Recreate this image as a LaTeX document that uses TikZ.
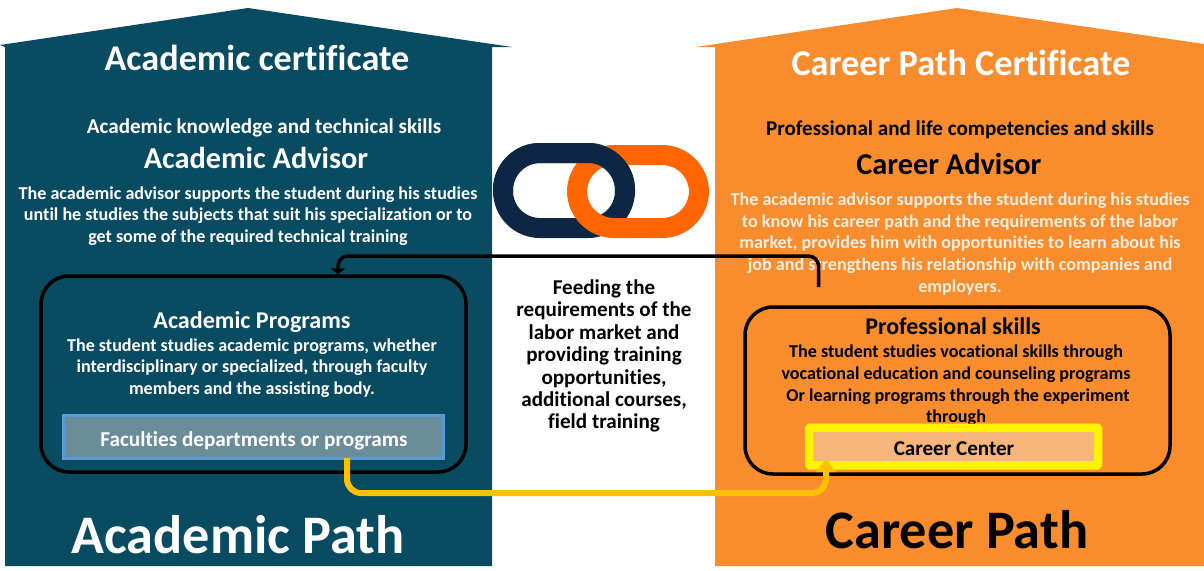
\documentclass[tikz,border=0pt]{standalone}
\usepackage{fontspec}
\setmainfont[Ligatures=NoCommon]{Carlito}
\usepackage{tikz}
\usetikzlibrary{arrows.meta,positioning}

\definecolor{AcadBlue}{HTML}{094B60}
\definecolor{CareerOrange}{HTML}{F98D2D}
\definecolor{LinkNavy}{HTML}{0D2644}
\definecolor{LinkOrange}{HTML}{FF6600}
\definecolor{FacFill}{HTML}{6B8D9A}
\definecolor{FacEdge}{HTML}{5B9BD5}
\definecolor{CenterFill}{HTML}{F5B57B}
\definecolor{ArrowGold}{HTML}{FFC000}

\begin{document}
\begin{tikzpicture}[x=1pt,y=-1pt]
			\tikzstyle{Line}	= [align=center, inner sep=0pt, font=\bfseries]
			\tikzstyle{WhiteText}	= [Line, text=white]
			\tikzstyle{PaleText}	= [Line, text=white!85!CareerOrange]
			\tikzstyle{BlackText}	= [Line, text=black]
			\tikzstyle{Box}		= [draw=black, line width=3.5pt, rounded corners=28pt]
			\tikzstyle{Link}	= [line width=20pt, rounded corners=37pt]

			\useasboundingbox (0,0) rectangle (1204,570);

			% the two houses
			\fill [AcadBlue] (0,45) -- (248,8) -- (512,47) -- (492,47) -- (492,566) -- (5,566) -- (5,47) -- cycle;
			\fill [CareerOrange] (696,47) -- (957,8) -- (1204,44) -- (1204,566) -- (715,566) -- (715,47) -- cycle;

			% the chain
			\draw [Link, LinkNavy] (503,153) rectangle (625,228);
			\draw [Link, LinkOrange] (577,155) rectangle (699,228);
			\begin{scope}
				\clip (480,130) rectangle (640,192);
				\draw [Link, LinkNavy] (503,153) rectangle (625,228);
			\end{scope}

			% left side
			\node (acadTitle) at (257,58) [WhiteText, font=\bfseries\fontsize{36.2}{40}\selectfont] {Academic certificate};
			\node (acadSkills) at (264,128) [WhiteText, font=\bfseries\fontsize{21.1}{24}\selectfont] {Academic knowledge and technical skills};
			\node (acadAdvisor) at (256,158) [WhiteText, font=\bfseries\fontsize{30.3}{32}\selectfont] {Academic Advisor};
			\node (acadText) at (248,216) [WhiteText, font=\bfseries\fontsize{18.1}{21.7}\selectfont] {The academic advisor supports the student during his studies\\until he studies the subjects that suit his specialization or to\\get some of the required technical training};
			\node (acadBox) at (253.5,374) [Box, minimum width=425pt, minimum height=196pt] {};
			\node (acadProg) at (252,322) [WhiteText, font=\bfseries\fontsize{24.1}{27}\selectfont] {Academic Programs};
			\node (acadProgText) at (252,368) [WhiteText, font=\bfseries\fontsize{18.1}{21.7}\selectfont] {The student studies academic programs, whether\\interdisciplinary or specialized, through faculty\\members and the assisting body.};
			\node (faculties) at (253.7,436.7) [draw=FacEdge, fill=FacFill, line width=3pt, minimum width=380pt, minimum height=43pt, inner sep=0pt] {};
			\node (facultiesText) at (254,440.5) [WhiteText, font=\bfseries\fontsize{21.2}{24}\selectfont] {Faculties departments or programs};
			\node (acadPath) at (238,535) [WhiteText, font=\bfseries\fontsize{54.3}{60}\selectfont] {Academic Path};

			% middle
			\node (feeding) at (604,356) [BlackText, font=\bfseries\fontsize{21.1}{22.4}\selectfont] {Feeding the\\requirements of the\\labor market and\\providing training\\opportunities,\\additional courses,\\field training};

			% right side
			\node (careerTitle) at (961,63) [WhiteText, font=\bfseries\fontsize{36.3}{40}\selectfont] {Career Path Certificate};
			\node (careerSkills) at (960,130) [BlackText, font=\bfseries\fontsize{21.1}{24}\selectfont] {Professional and life competencies and skills};
			\node (careerAdvisor) at (949,164) [BlackText, font=\bfseries\fontsize{30.3}{32}\selectfont] {Career Advisor};
			\node (careerText) at (960,244) [PaleText, font=\bfseries\fontsize{18.1}{21.7}\selectfont] {The academic advisor supports the student during his studies\\to know his career path and the requirements of the labor\\market, provides him with opportunities to learn about his\\job and strengthens his relationship with companies and\\employers.};
			\node (careerBox) at (957.5,390.5) [Box, minimum width=425pt, minimum height=167pt] {};
			\node (careerSkill) at (953,326) [BlackText, font=\bfseries\fontsize{24}{27}\selectfont] {Professional skills};
			\node (careerSkillText) at (956,385.5) [BlackText, font=\bfseries\fontsize{18.1}{21.7}\selectfont] {The student studies vocational skills through\\vocational education and counseling programs\\\ Or learning programs through the experiment\\through};
			\node (center) at (953.5,446.5) [draw=yellow, fill=CenterFill, line width=8.5pt, rounded corners=1pt, minimum width=289pt, minimum height=37.5pt, inner sep=0pt] {};
			\node (centerText) at (954,449) [BlackText, font=\bfseries\fontsize{21.1}{24}\selectfont] {Career Center};
			\node (careerPath) at (957,530) [BlackText, font=\bfseries\fontsize{54.3}{60}\selectfont] {Career Path};

			% connectors
			\coordinate (backStart) at (818.5,287);
			\coordinate (backTurn) at (818.5,256);
			\coordinate (backEnd) at (338,256);
			\coordinate (goldStart) at (347,458);
			\coordinate (goldTurn) at (347,493);
			\coordinate (goldBack) at (826,493);
			\coordinate (goldEnd) at (826,459);
			\draw [-{Triangle[width=15pt,length=6pt]}, line width=3.5pt, rounded corners=10pt] (backStart) -- (backTurn) -- (backEnd) -- (acadBox.north -| backEnd);
			\draw [-{Triangle[width=20pt,length=13pt]}, ArrowGold, line width=6pt, rounded corners=14pt] (goldStart) -- (goldTurn) -- (goldBack) -- (goldEnd);

		\end{tikzpicture}
\end{document}
